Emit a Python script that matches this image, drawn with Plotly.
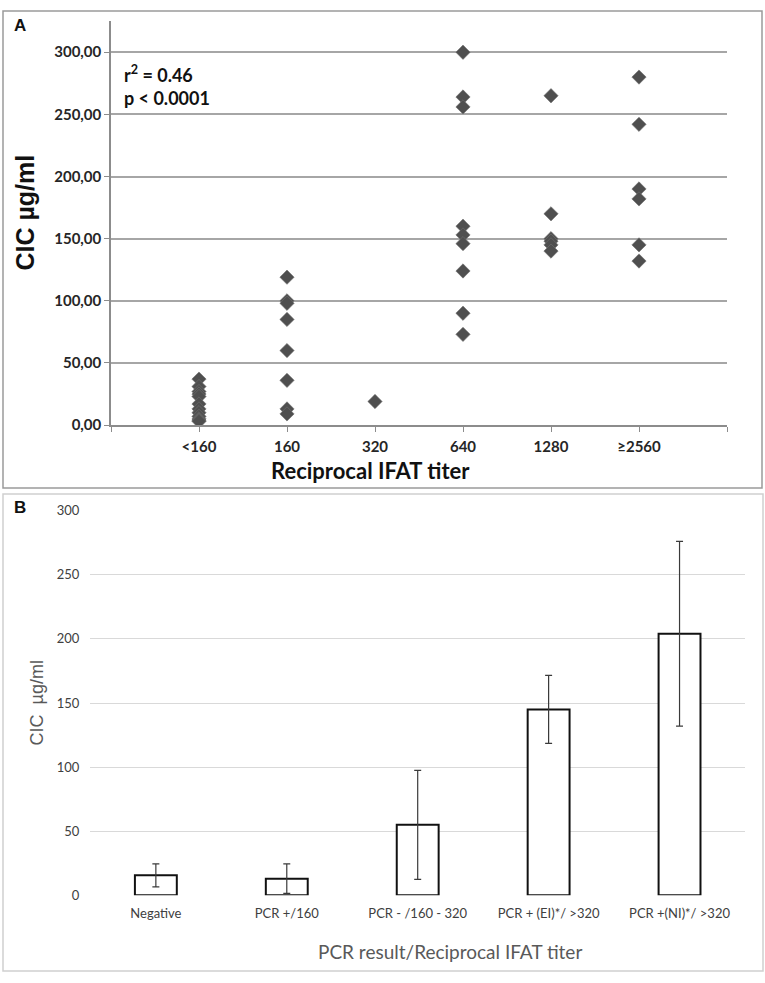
import plotly.graph_objects as go

# ---- Panel A data (scatter) ----
titer_labels = ["<160", "160", "320", "640", "1280", "≥2560"]
cic_lt160 = [37, 31, 27, 25, 23, 17, 13, 10, 7, 5, 4, 3]
cic_160 = [119, 100, 98, 85, 60, 36, 13, 9]
cic_320 = [19]
cic_640 = [300, 264, 256, 160, 153, 146, 124, 90, 73]
cic_1280 = [265, 170, 150, 148, 145, 140]
cic_2560 = [280, 242, 190, 182, 145, 132]
groups_a = [cic_lt160, cic_160, cic_320, cic_640, cic_1280, cic_2560]
ytick_a = [0, 50, 100, 150, 200, 250, 300]
ytick_a_text = ["0,00", "50,00", "100,00", "150,00", "200,00", "250,00", "300,00"]

# ---- Panel B data (bars with error bars) ----
pcr_cats = ["Negative", "PCR +/160", "PCR - /160 - 320", "PCR + (EI)*/ >320", "PCR +(NI)*/ >320"]
pcr_means = [15.6, 13, 55, 145, 204]
pcr_err = [9, 11.5, 42.5, 26.5, 72]
ytick_b = [0, 50, 100, 150, 200, 250, 300]

W, H = 765, 983
def px(x):
    return x / W
def py(y):
    return 1 - y / H

fig = go.Figure()

xs, ys = [], []
for i, g in enumerate(groups_a):
    for v in g:
        xs.append(i + 1)
        ys.append(v)
fig.add_trace(go.Scatter(
    x=xs, y=ys, mode="markers", xaxis="x", yaxis="y",
    marker=dict(symbol="diamond", size=11, color="#4f4f4f",
                line=dict(color="#707070", width=0.6)),
    showlegend=False, hoverinfo="skip"))

fig.add_trace(go.Bar(
    x=pcr_cats, y=pcr_means, xaxis="x2", yaxis="y2", width=0.32,
    marker=dict(color="white", line=dict(color="#111111", width=2)),
    error_y=dict(type="data", array=pcr_err, visible=True,
                 color="#3a3a3a", thickness=1.2, width=3.5),
    showlegend=False, hoverinfo="skip"))

font_b = "Lato, 'Open Sans', sans-serif"

fig.update_layout(
    width=W, height=H, margin=dict(l=0, r=0, t=0, b=0),
    paper_bgcolor="white", plot_bgcolor="white",
    xaxis=dict(domain=[px(111), px(727)], range=[0, 7],
               tickmode="array", tickvals=list(range(1, 7)),
               ticktext=titer_labels,
               ticks="outside", ticklen=5, tickcolor="#8c8c8c", tickwidth=1.2,
               minor=dict(ticks="outside", ticklen=5, tickcolor="#8c8c8c", tickwidth=1.2,
                          tick0=0, dtick=1, showgrid=False),
               showline=True, linecolor="#8c8c8c", linewidth=1.5,
               showgrid=False, zeroline=False,
               tickfont=dict(family=font_b, size=15, color="#262626", weight="bold"),
               anchor="y", ticklabelstandoff=2),
    yaxis=dict(domain=[py(424), py(13)], range=[0, 325.3],
               tickmode="array", tickvals=ytick_a, ticktext=ytick_a_text,
               ticks="outside", ticklen=5, tickcolor="#8c8c8c", tickwidth=1.2,
               showline=True, linecolor="#8c8c8c", linewidth=1.5,
               showgrid=True, gridcolor="#a6a6a6", gridwidth=1.5, zeroline=False,
               tickfont=dict(family=font_b, size=15, color="#262626", weight="bold"),
               anchor="x"),
    xaxis2=dict(domain=[px(90.4), px(745)], range=[-0.5, 4.5],
                showline=False, showgrid=False, zeroline=False, ticks="",
                tickfont=dict(family=font_b, size=13, color="#404040"),
                anchor="y2", ticklabelstandoff=9),
    yaxis2=dict(domain=[py(902), py(511)], range=[0, 300],
                tickmode="array", tickvals=ytick_b,
                showline=False, showgrid=True, gridcolor="#d9d9d9", gridwidth=1.3,
                zeroline=False, ticks="",
                tickfont=dict(family=font_b, size=13, color="#404040"),
                anchor="x2", ticklabelstandoff=10),
    bargap=0.68,
)

ann = []
def add(text, x, y, size, color="#111111", family=font_b, xanchor="left", angle=0):
    ann.append(dict(text=text, x=px(x), y=py(y), xref="paper", yref="paper",
                    xanchor=xanchor, yanchor="middle", showarrow=False, textangle=angle,
                    font=dict(family=family, size=size, color=color)))

add("<b>A</b>", 12, 18, 17, family="Liberation Sans, Arial")
add("<b>B</b>", 12, 508, 17, family="Liberation Sans, Arial")
add("<b>r<sup>2</sup> = 0.46</b>", 122, 67, 18)
add("<b>p < 0.0001</b>", 122, 91, 18)
add("<b>CIC µg/ml</b>", 25, 208, 25, family="Liberation Sans, Arial", xanchor="center", angle=-90)
add("<b>Reciprocal IFAT titer</b>", 370, 470, 22, xanchor="center")
add("CIC  µg/ml", 37, 707, 18, color="#595959", family="Liberation Sans, Arial", xanchor="center", angle=-90)
add("PCR result/Reciprocal IFAT titer", 450, 959, 19, color="#595959", xanchor="center")
fig.update_layout(annotations=ann)

fig.update_layout(shapes=[
    dict(type="rect", xref="paper", yref="paper", x0=px(3), x1=px(762), y0=py(488), y1=py(3),
         line=dict(color="#9a9a9a", width=1.5)),
    dict(type="rect", xref="paper", yref="paper", x0=px(3), x1=px(763), y0=py(979), y1=py(494),
         line=dict(color="#d0d0d0", width=1.5)),
])

fig.write_html("out.html", config={"displayModeBar": False},
               post_script="document.body.style.margin='0';document.body.style.overflow='hidden';")
